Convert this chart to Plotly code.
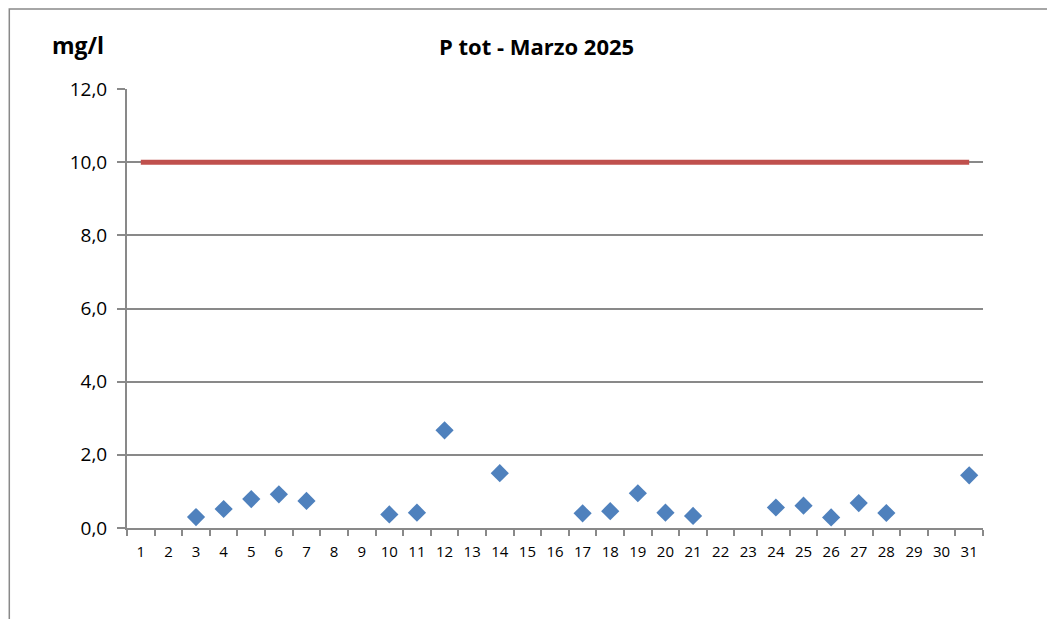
import plotly.graph_objects as go

giorni = [str(d) for d in range(1, 32)]
# P tot (mg/l), None where no sample
p_tot = [None, None, 0.30, 0.52, 0.79, 0.92, 0.74, None, None, 0.37,
         0.42, 2.67, None, 1.50, None, None, 0.40, 0.46, 0.95, 0.42,
         0.33, None, None, 0.56, 0.61, 0.29, 0.68, 0.41, None, None, 1.44]
limite = [10.0] * 31

fig = go.Figure()
fig.add_trace(go.Scatter(x=giorni, y=limite, mode="lines",
                         line=dict(color="#C0504D", width=5),
                         showlegend=False, hoverinfo="skip"))
fig.add_trace(go.Scatter(x=giorni, y=p_tot, mode="markers",
                         marker=dict(symbol="diamond", size=14, color="#4F81BD",
                                     line=dict(width=0)),
                         showlegend=False))

# page body has an 8px margin, so the figure is 8px smaller than the window
fig.update_layout(
    width=1047, height=611,
    margin=dict(l=119, r=72, t=81, b=91),
    paper_bgcolor="white", plot_bgcolor="white",
    separators=",.",
    font=dict(family="Open Sans, Liberation Sans, sans-serif", color="black"),
    xaxis=dict(type="category", categoryorder="array", categoryarray=giorni,
               tickson="boundaries", ticks="outside", ticklen=6,
               tickcolor="#898989", tickwidth=2, tickangle=0,
               showline=True, linecolor="#898989", linewidth=2,
               showgrid=False, tickfont=dict(size=15), ticklabelstandoff=9,
               range=[-0.5, 30.5]),
    yaxis=dict(range=[0, 12], dtick=2, tickformat=".1f",
               ticks="outside", ticklen=8, tickcolor="#898989", tickwidth=2,
               showline=True, linecolor="#898989", linewidth=2,
               showgrid=True, gridcolor="#898989", gridwidth=2,
               zeroline=False, tickfont=dict(size=19), ticklabelstandoff=6),
    shapes=[dict(type="rect", xref="paper", yref="paper",
                 x0=-0.1375, x1=1.3, y0=-0.5, y1=1.182,
                 line=dict(color="#898989", width=1.5), layer="below")],
    annotations=[
        dict(text="<b>P tot - Marzo 2025</b>", xref="paper", yref="paper",
             x=0.478, y=1.098, showarrow=False, font=dict(size=22),
             xanchor="center", yanchor="middle"),
        dict(text="<b>mg/l</b>", xref="paper", yref="paper",
             x=-0.057, y=1.1, showarrow=False, font=dict(size=23),
             xanchor="center", yanchor="middle"),
    ],
)

fig.write_html("out.html")
